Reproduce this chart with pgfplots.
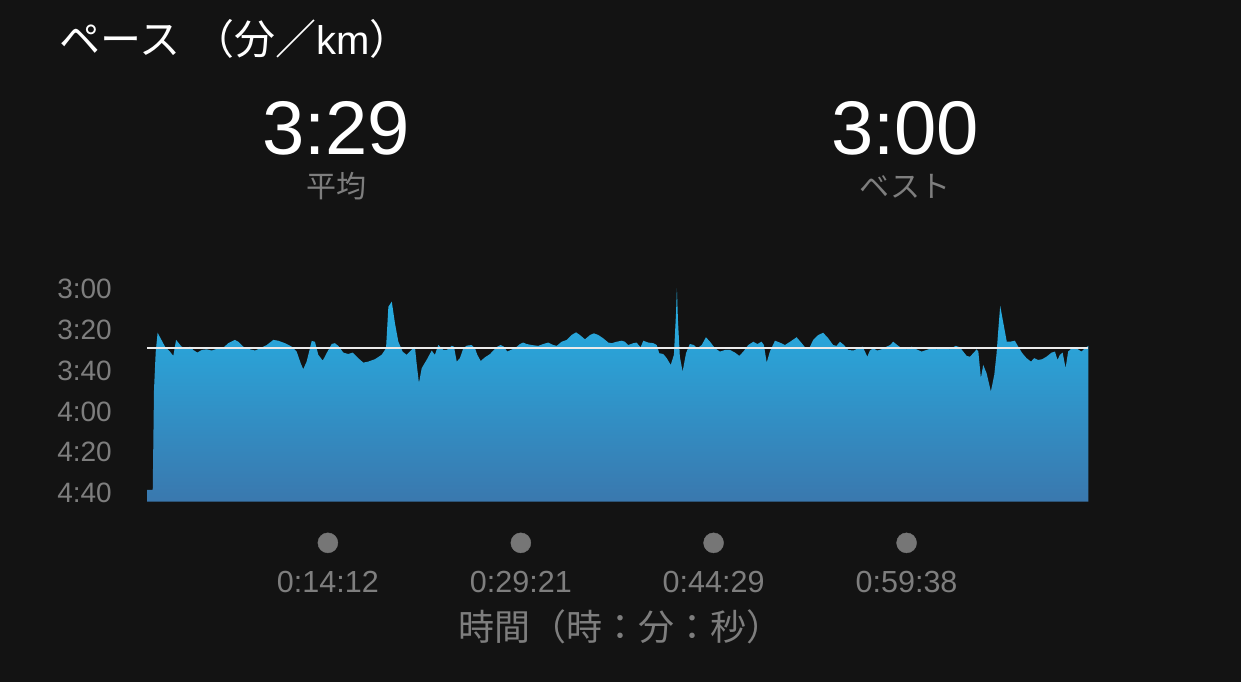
\documentclass[border=0pt]{standalone}
\usepackage{pgfplots}
\pgfplotsset{compat=1.18}
\usepackage{fontspec}
\setmainfont{Liberation Sans}
\newfontfamily\jp{Noto Sans CJK JP}
\definecolor{bg}{HTML}{131313}
\definecolor{txtgray}{HTML}{7E7E7E}
\definecolor{areatop}{HTML}{25B2E6}
\definecolor{areabot}{HTML}{3A78AE}
\definecolor{dotgray}{HTML}{767676}
\begin{document}
\begin{tikzpicture}[x=1pt,y=1pt]
\fill[bg] (0,0) rectangle (1241,682);
\useasboundingbox (0,0) rectangle (1241,682);
% header texts
\node[anchor=base west, inner sep=0pt, text=white, font=\jp\fontsize{41}{41}\selectfont] at (59,627.5) {ペース\hspace{13pt}（分／{\rmfamily\fontsize{40}{40}\selectfont km}）};
\node[anchor=base, inner sep=0pt, text=white, font=\fontsize{76}{76}\selectfont] at (336,527) {3:29};
\node[anchor=base, inner sep=0pt, text=white, font=\fontsize{76}{76}\selectfont] at (905,527) {3:00};
\node[anchor=base, inner sep=0pt, text=txtgray, font=\jp\fontsize{30}{30}\selectfont] at (336,484.5) {平均};
\node[anchor=base, inner sep=0pt, text=txtgray, font=\jp\fontsize{30}{30}\selectfont] at (905,484.5) {ベスト};
\begin{axis}[
  at={(147pt,180.5pt)}, anchor=south west,
  scale only axis, width=941.3pt, height=213pt,
  xmin=0, xmax=4434, ymin=180, ymax=284,
  y dir=reverse,
  clip=false,
  axis line style={draw=none},
  major tick length=0pt,
  tick style={draw=none},
  ytick={180,200,220,240,260,280},
  yticklabels={3:00,3:20,3:40,4:00,4:20,4:40},
  xtick={852,1761,2669,3578},
  xticklabels={0:14:12,0:29:21,0:44:29,0:59:38},
  yticklabel style={anchor=east, inner sep=0pt, xshift=-35pt, text=txtgray, font=\fontsize{28}{28}\selectfont},
  xticklabel style={anchor=base, inner sep=0pt, yshift=-90.5pt, text=txtgray, font=\fontsize{30.5}{30.5}\selectfont},
]
\addplot[draw=none, top color=areatop, bottom color=areabot] coordinates {
(0,284) (0,278.3) (27,278.3) (33,229.5) (41,211.0) (50,201.6) (85,208.4) (108,210.8) (124,212.9) (137,205.1)
(163,208.4) (187,209.2) (203,208.4) (218,210.0) (237,211.3) (258,210.0) (281,209.7) (305,210.3) (336,209.2) (359,208.9)
(383,206.7) (414,205.1) (430,206.0) (454,208.4) (485,209.7) (509,210.3) (532,209.2) (564,207.6) (595,205.1) (618,205.5)
(650,206.7) (682,208.4) (705,210.8) (724,216.5) (736,219.4) (752,215.7) (776,205.6) (791,206.0) (807,212.4) (828,215.2)
(846,211.6) (870,207.1) (885,206.7) (901,208.0) (925,211.3) (948,212.0) (969,211.3) (995,214.0) (1019,216.2) (1042,215.7)
(1074,214.5) (1105,212.4) (1126,209.2) (1137,188.9) (1153,186.4) (1168,197.0) (1184,206.0) (1204,210.8) (1223,212.4) (1243,210.3)
(1262,208.4) (1270,216.5) (1281,226.2) (1294,218.9) (1317,214.9) (1341,210.3) (1356,212.4) (1372,207.6) (1396,210.0) (1412,210.0)
(1435,208.0) (1446,208.4) (1459,215.7) (1474,214.0) (1490,209.2) (1506,207.9) (1529,207.6) (1545,209.2) (1556,212.4) (1572,215.4)
(1592,213.6) (1616,212.0) (1631,210.3) (1650,208.4) (1666,207.6) (1681,208.4) (1697,210.8) (1713,210.0) (1733,209.2) (1757,207.1)
(1772,206.4) (1788,207.1) (1812,207.6) (1843,208.0) (1867,207.1) (1890,206.4) (1914,207.6) (1930,208.0) (1953,206.0) (1977,205.1)
(2000,202.7) (2021,201.4) (2039,202.7) (2063,204.8) (2087,202.7) (2105,201.9) (2126,202.7) (2149,204.3) (2173,206.4) (2189,206.7)
(2212,206.0) (2236,205.5) (2251,206.0) (2267,207.6) (2291,206.7) (2306,206.4) (2325,208.7) (2338,205.5) (2361,206.4) (2385,206.7)
(2401,207.6) (2413,211.6) (2432,212.0) (2448,214.0) (2467,217.3) (2482,212.4) (2492,192.1) (2496,180.0) (2501,195.4) (2510,213.3)
(2523,220.6) (2539,211.6) (2557,207.1) (2576,207.6) (2592,209.2) (2613,207.6) (2633,203.8) (2652,206.0) (2676,209.2) (2699,210.8)
(2723,210.0) (2746,210.0) (2770,211.3) (2790,212.9) (2809,210.8) (2832,207.6) (2856,206.0) (2875,207.1) (2895,206.0) (2906,207.6)
(2919,216.2) (2934,210.8) (2958,205.5) (2981,206.4) (3005,207.6) (3029,206.0) (3060,203.8) (3084,206.7) (3107,209.7) (3123,208.4)
(3138,205.1) (3162,202.7) (3185,201.6) (3209,204.3) (3232,207.6) (3248,208.0) (3264,206.0) (3283,207.6) (3303,210.0) (3327,210.3)
(3350,209.2) (3371,208.4) (3382,210.8) (3393,213.3) (3405,210.3) (3421,209.2) (3440,210.3) (3460,209.7) (3484,208.4) (3500,207.6)
(3515,206.0) (3534,207.6) (3555,209.2) (3578,209.7) (3602,208.4) (3625,209.7) (3649,210.8) (3672,210.0) (3696,209.2) (3719,209.7)
(3743,209.2) (3759,209.2) (3782,209.7) (3809,208.0) (3829,208.7) (3845,210.8) (3861,212.9) (3876,213.3) (3892,211.6) (3908,209.7)
(3916,210.8) (3928,223.8) (3939,217.3) (3955,221.4) (3975,230.3) (3991,222.2) (4002,211.6) (4010,200.2) (4019,188.5) (4034,197.0)
(4050,206.0) (4065,206.0) (4088,205.5) (4104,208.4) (4123,211.6) (4143,214.0) (4164,215.7) (4179,214.0) (4198,214.9) (4217,214.5)
(4237,213.3) (4261,211.3) (4277,210.8) (4289,214.9) (4300,212.4) (4313,211.3) (4327,218.9) (4339,210.8) (4355,209.2) (4374,208.9)
(4390,210.0) (4402,210.8) (4418,209.2) (4434,208.0) (4434,284)
};
\addplot[color=white!92!black, line width=1.4pt] coordinates {(0,209) (4434,209)};
\addplot[only marks, mark=*, mark size=10pt, color=dotgray, mark options={draw=none, fill=dotgray}] coordinates {(852,304.2) (1761,304.2) (2669,304.2) (3578,304.2)};
\end{axis}
\node[anchor=base, inner sep=0pt, text=txtgray, font=\jp\fontsize{36}{36}\selectfont] at (620,41) {時間（時：分：秒）};
\end{tikzpicture}
\end{document}
